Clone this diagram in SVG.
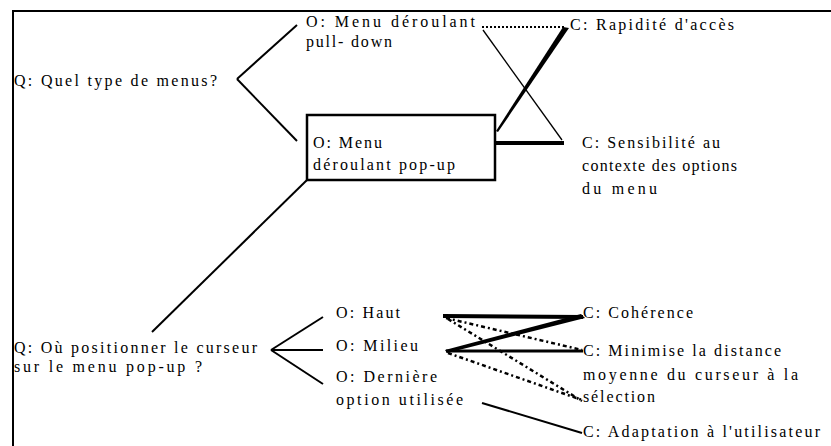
<svg xmlns="http://www.w3.org/2000/svg" width="831" height="446" viewBox="0 0 831 446">
<style>
text{font-family:"Liberation Serif","Times New Roman",serif;font-size:16px;fill:#000}
.ln{stroke:#000;fill:none;stroke-width:2}
.thin{stroke:#000;fill:none;stroke-width:1.3}
.thick{stroke:#000;fill:none;stroke-width:4}
.dot{stroke:#000;fill:none;stroke-width:2;stroke-dasharray:2 2}
.dd{stroke:#000;fill:none;stroke-width:2.5;stroke-dasharray:4 3 2 3}
</style>
<rect width="831" height="446" fill="#fff"/>
<g id="frame">
<line class="ln" x1="12" y1="11" x2="831" y2="11"/>
<line class="ln" x1="13" y1="10" x2="13" y2="446"/>
</g>
<g id="connectors">
<line class="ln" x1="237" y1="79" x2="297" y2="25"/>
<line class="ln" x1="237" y1="79" x2="297" y2="141"/>
<line class="dot" x1="482" y1="27" x2="566" y2="27"/>
<line class="thin" x1="483" y1="30" x2="562" y2="140"/>
<polygon points="563,27 569,28 498,132 496,131" fill="#000"/>
<line class="thick" x1="495" y1="143" x2="564" y2="143"/>
<line class="ln" x1="307" y1="180" x2="152" y2="332"/>
<line class="ln" x1="271" y1="350" x2="323" y2="317"/>
<line class="ln" x1="271" y1="350" x2="323" y2="350"/>
<line class="ln" x1="271" y1="350" x2="323" y2="384"/>
<line class="thick" x1="443" y1="316" x2="583" y2="317"/>
<polygon points="581,314 585,318 447,353 445,350" fill="#000"/>
<line class="ln" x1="446" y1="351" x2="583" y2="351" style="stroke-width:3"/>
<line class="dd" x1="446" y1="318" x2="582" y2="350"/>
<line class="dd" x1="448" y1="319" x2="582" y2="401"/>
<line class="dd" x1="448" y1="353" x2="582" y2="400"/>
<line class="ln" x1="482" y1="403" x2="582" y2="433"/>
</g>
<g id="q1"><text x="14" y="86" textLength="203" lengthAdjust="spacing">Q: Quel type de menus?</text></g>
<g id="o-pulldown">
<text x="306" y="27" textLength="169" lengthAdjust="spacing">O: Menu déroulant</text>
<text x="306" y="47" textLength="86" lengthAdjust="spacing">pull- down</text>
</g>
<g id="o-popup">
<rect x="307" y="115" width="188" height="65" fill="none" stroke="#000" stroke-width="2.5"/>
<text x="313" y="148" textLength="69" lengthAdjust="spacing">O: Menu</text>
<text x="313" y="170" textLength="142" lengthAdjust="spacing">déroulant pop-up</text>
</g>
<g id="c-rapidite"><text x="570" y="30" textLength="164" lengthAdjust="spacing">C: Rapidité d'accès</text></g>
<g id="c-sensibilite">
<text x="582" y="148" textLength="138" lengthAdjust="spacing">C: Sensibilité au</text>
<text x="582" y="171" textLength="155" lengthAdjust="spacing">contexte des options</text>
<text x="582" y="194" textLength="75" lengthAdjust="spacing">du menu</text>
</g>
<g id="q2">
<text x="14" y="353" textLength="243" lengthAdjust="spacing">Q: Où positionner le curseur</text>
<text x="14" y="372" textLength="188" lengthAdjust="spacing">sur le menu pop-up ?</text>
</g>
<g id="o-haut"><text x="336" y="318" textLength="64" lengthAdjust="spacing">O: Haut</text></g>
<g id="o-milieu"><text x="336" y="351" textLength="82" lengthAdjust="spacing">O: Milieu</text></g>
<g id="o-derniere">
<text x="336" y="382" textLength="101" lengthAdjust="spacing">O: Dernière</text>
<text x="336" y="405" textLength="127" lengthAdjust="spacing">option utilisée</text>
</g>
<g id="c-coherence"><text x="583" y="318" textLength="110" lengthAdjust="spacing">C: Cohérence</text></g>
<g id="c-minimise">
<text x="583" y="356" textLength="198" lengthAdjust="spacing">C: Minimise la distance</text>
<text x="583" y="380" textLength="215" lengthAdjust="spacing">moyenne du curseur à la</text>
<text x="583" y="402" textLength="72" lengthAdjust="spacing">sélection</text>
</g>
<g id="c-adaptation"><text x="583" y="437" textLength="237" lengthAdjust="spacing">C: Adaptation à l'utilisateur</text></g>
</svg>
